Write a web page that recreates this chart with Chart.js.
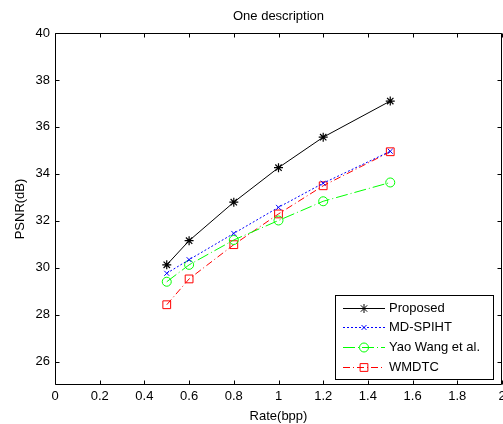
<!DOCTYPE html>
<html>
<head>
<meta charset="utf-8">
<script src="https://cdn.jsdelivr.net/npm/chart.js"></script>
<style>
  html, body { margin: 0; padding: 0; background: #fff; }
  canvas { display: block; }
</style>
</head>
<body>
<canvas id="psnrChart" width="503" height="424"></canvas>
<script>
// Rate (bpp) for each measurement
const rates = [0.5, 0.6, 0.8, 1.0, 1.2, 1.5];

// PSNR (dB) per method
const proposed = [30.12, 31.15, 32.79, 34.26, 35.56, 37.10];
const mdSpiht = [29.76, 30.34, 31.46, 32.57, 33.60, 34.96];
const yaoWang = [29.40, 30.12, 31.18, 32.01, 32.83, 33.63];
const wmdtc = [28.42, 29.52, 30.98, 32.29, 33.49, 34.94];

// Axis ticks
const xTicks = [0, 0.2, 0.4, 0.6, 0.8, 1, 1.2, 1.4, 1.6, 1.8, 2];
const yTicks = [26, 28, 30, 32, 34, 36, 38, 40];

const FONT = { family: '"Liberation Sans", Arial, sans-serif', size: 13, weight: 'normal' };

function toPoints(values) {
    return values.map((v, i) => ({ x: rates[i], y: v }));
}

// MATLAB style box with inward ticks on every side
const boxPlugin = {
    id: 'matlabBox',
    afterDatasetsDraw(chart) {
        const { ctx, chartArea: a, scales } = chart;
        const L = Math.round(a.left) + 0.5, R = Math.round(a.right) - 0.5;
        const T = Math.round(a.top) + 0.5, B = Math.round(a.bottom) - 0.5;
        const len = 4;
        ctx.save();
        ctx.strokeStyle = '#000';
        ctx.lineWidth = 1;
        ctx.beginPath();
        ctx.rect(L, T, R - L, B - T);
        scales.x.ticks.forEach(t => {
            const px = Math.round(scales.x.getPixelForValue(t.value)) + 0.5;
            ctx.moveTo(px, B); ctx.lineTo(px, B - len);
            ctx.moveTo(px, T); ctx.lineTo(px, T + len);
        });
        scales.y.ticks.forEach(t => {
            const py = Math.round(scales.y.getPixelForValue(t.value)) + 0.5;
            ctx.moveTo(L, py); ctx.lineTo(L + len, py);
            ctx.moveTo(R, py); ctx.lineTo(R - len, py);
        });
        ctx.stroke();
        ctx.restore();
    }
};

// Legend box in the lower right corner, line sample + marker per dataset
const legendPlugin = {
    id: 'matlabLegend',
    afterDraw(chart) {
        const { ctx, chartArea: a } = chart;
        const w = 158, h = 84;
        const right = Math.round(a.right) - 9, bottom = Math.round(a.bottom) - 6;
        const left = right - w, top = bottom - h;
        ctx.save();
        ctx.fillStyle = '#fff';
        ctx.fillRect(left, top, w, h);
        ctx.strokeStyle = '#000';
        ctx.lineWidth = 1;
        ctx.strokeRect(left + 0.5, top + 0.5, w, h);

        ctx.font = FONT.size + 'px ' + FONT.family;
        ctx.textBaseline = 'middle';
        chart.data.datasets.forEach((ds, i) => {
            const y = Math.round(top + 12.5 + i * 19.8) + 0.5;
            ctx.strokeStyle = ds.borderColor;
            ctx.lineWidth = ds.borderWidth;
            ctx.setLineDash(ds.borderDash || []);
            ctx.beginPath();
            ctx.moveTo(left + 8, y);
            ctx.lineTo(left + 50, y);
            ctx.stroke();
            ctx.setLineDash([]);
            ctx.fillStyle = ds.pointBackgroundColor;
            Chart.helpers.drawPoint(ctx, {
                pointStyle: ds.pointStyle,
                radius: ds.pointRadius,
                rotation: 0,
                borderWidth: ds.pointBorderWidth
            }, left + 29, y);
            ctx.fillStyle = '#000';
            ctx.fillText(ds.label, left + 54, y);
        });
        ctx.restore();
    }
};

new Chart(document.getElementById('psnrChart').getContext('2d'), {
    type: 'line',
    data: {
        datasets: [{
            label: 'Proposed',
            data: toPoints(proposed),
            borderColor: '#000',
            borderWidth: 1,
            pointStyle: 'star',
            pointRadius: 4.5,
            pointBorderWidth: 1.2,
            pointBorderColor: '#000',
            pointBackgroundColor: '#000'
        }, {
            label: 'MD-SPIHT',
            data: toPoints(mdSpiht),
            borderColor: '#0000ff',
            borderWidth: 1,
            borderDash: [2, 2],
            pointStyle: 'crossRot',
            pointRadius: 3.5,
            pointBorderWidth: 1,
            pointBorderColor: '#0000ff',
            pointBackgroundColor: 'rgba(0,0,0,0)'
        }, {
            label: 'Yao Wang et al.',
            data: toPoints(yaoWang),
            borderColor: '#00ff00',
            borderWidth: 1,
            borderDash: [12, 3, 1, 3],
            pointStyle: 'circle',
            pointRadius: 4.5,
            pointBorderWidth: 1,
            pointBorderColor: '#00ff00',
            pointBackgroundColor: 'rgba(0,0,0,0)'
        }, {
            label: 'WMDTC',
            data: toPoints(wmdtc),
            borderColor: '#ff0000',
            borderWidth: 1,
            borderDash: [7, 3, 1, 3],
            pointStyle: 'rect',
            pointRadius: 5.5,
            pointBorderWidth: 1,
            pointBorderColor: '#ff0000',
            pointBackgroundColor: 'rgba(0,0,0,0)'
        }]
    },
    options: {
        responsive: false,
        animation: false,
        devicePixelRatio: 1,
        layout: { autoPadding: false, padding: { left: 0, right: 1, top: 0, bottom: 0 } },
        plugins: {
            legend: { display: false },
            tooltip: { enabled: false },
            title: {
                display: true,
                text: 'One description',
                fullSize: false,
                color: '#000',
                font: FONT,
                padding: { top: 8.7, bottom: 8.7 }
            }
        },
        scales: {
            x: {
                type: 'linear',
                min: 0,
                max: 2,
                afterBuildTicks: s => { s.ticks = xTicks.map(v => ({ value: v })); },
                afterFit: s => { s.height = 39; s.paddingLeft = 0; s.paddingRight = 0; },
                grid: { display: false, drawTicks: false },
                border: { display: false },
                ticks: {
                    color: '#000', font: FONT, padding: 3.5, maxRotation: 0, autoSkip: false,
                    callback: v => String(v)
                },
                title: { display: true, text: 'Rate(bpp)', color: '#000', font: FONT, padding: { top: 0, bottom: 0 } }
            },
            y: {
                type: 'linear',
                min: 25,
                max: 40,
                afterBuildTicks: s => { s.ticks = yTicks.map(v => ({ value: v })); },
                afterFit: s => { s.width = 55; s.paddingTop = 0; s.paddingBottom = 0; },
                grid: { display: false, drawTicks: false },
                border: { display: false },
                ticks: { color: '#000', font: FONT, padding: 5, autoSkip: false, callback: v => String(v) },
                title: { display: true, text: 'PSNR(dB)', color: '#000', font: FONT, padding: { top: 12.2, bottom: 0 } }
            }
        }
    },
    plugins: [boxPlugin, legendPlugin]
});
</script>
</body>
</html>
